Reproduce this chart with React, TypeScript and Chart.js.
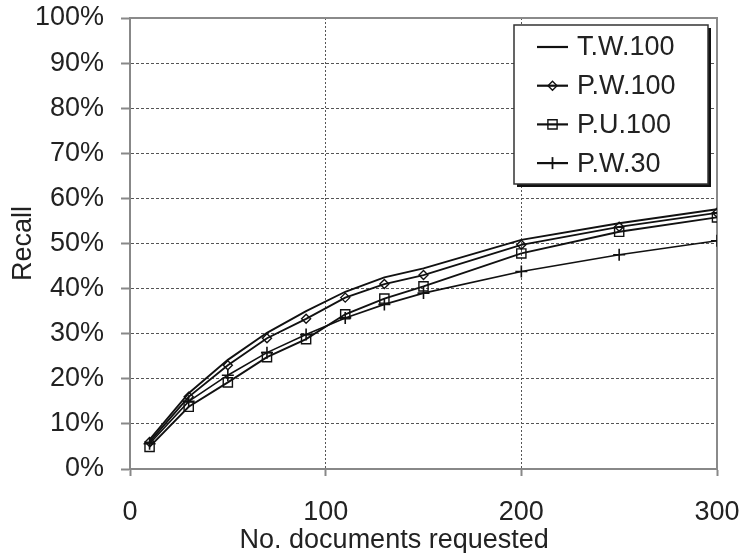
import React, { useEffect, useRef } from 'react';
import { Chart, registerables } from 'chart.js';

Chart.register(...registerables);

const docsRequested = [10, 30, 50, 70, 90, 110, 130, 150, 200, 250, 300];
const recallTW100 = [6.5, 16.8, 24.2, 30.2, 35.0, 39.3, 42.5, 44.5, 50.8, 54.5, 57.6];
const recallPW100 = [6.0, 16.0, 23.0, 29.0, 33.3, 38.0, 41.0, 43.0, 49.7, 53.7, 56.8];
const recallPU100 = [4.9, 13.8, 19.2, 24.8, 28.8, 34.3, 37.8, 40.5, 47.8, 52.6, 55.8];
const recallPW30 = [5.6, 15.0, 20.8, 25.8, 29.8, 33.5, 36.5, 39.0, 43.8, 47.5, 50.6];
const seriesNames = ['T.W.100', 'P.W.100', 'P.U.100', 'P.W.30'];
const seriesMarkers = ['none', 'rectRot', 'rect', 'cross'];
const xTitle = 'No. documents requested';
const yTitle = 'Recall';

const FONT = '"Liberation Sans", Arial, Helvetica, sans-serif';
const TEXT = '#222';
const INK = '#111';

function drawMarker(ctx: CanvasRenderingContext2D, style: string, x: number, y: number) {
  ctx.save();
  ctx.strokeStyle = INK;
  ctx.lineWidth = 1.4;
  ctx.beginPath();
  if (style === 'rectRot') {
    const r = 4.5;
    ctx.moveTo(x - r, y); ctx.lineTo(x, y - r); ctx.lineTo(x + r, y); ctx.lineTo(x, y + r); ctx.closePath();
  } else if (style === 'rect') {
    const s = 4.6;
    ctx.rect(x - s, y - s, 2 * s, 2 * s);
  } else if (style === 'cross') {
    const r = 6;
    ctx.lineWidth = 1.8;
    ctx.moveTo(x, y - r); ctx.lineTo(x, y + r);
  }
  ctx.stroke();
  ctx.restore();
}

const customPlugin = {
  id: 'customDecor',
  beforeDatasetsDraw(chart: any) {
    const { ctx, chartArea } = chart;
    const { left, right, top, bottom } = chartArea;
    ctx.save();
    ctx.strokeStyle = '#8a8a8a';
    ctx.lineWidth = 2;
    ctx.beginPath();
    ctx.moveTo(left, top);
    ctx.lineTo(right, top);
    ctx.lineTo(right, bottom);
    ctx.stroke();
    ctx.restore();
  },
  afterDraw(chart: any) {
    const { ctx, chartArea } = chart;
    const { left, right, top, bottom } = chartArea;
    ctx.save();
    ctx.fillStyle = TEXT;
    ctx.font = `27px ${FONT}`;
    ctx.textAlign = 'center';
    ctx.textBaseline = 'middle';
    ctx.fillText(xTitle, left + 0.45 * (right - left), bottom + 72);
    ctx.save();
    ctx.translate(24, (top + bottom) / 2);
    ctx.rotate(-Math.PI / 2);
    ctx.fillText(yTitle, 0, 0);
    ctx.restore();

    // legend
    const bx = right - 203;
    const by = top + 7;
    const bw = 194;
    const bh = 159;
    ctx.fillStyle = '#111';
    ctx.fillRect(bx + 3, by + 3, bw, bh);
    ctx.fillStyle = '#fff';
    ctx.fillRect(bx, by, bw, bh);
    ctx.strokeStyle = '#333';
    ctx.lineWidth = 1.5;
    ctx.strokeRect(bx, by, bw, bh);

    ctx.font = `27px ${FONT}`;
    ctx.textAlign = 'left';
    ctx.textBaseline = 'middle';
    for (let i = 0; i < seriesNames.length; i++) {
      const cy = by + 22 + i * 38.7;
      const sx0 = bx + 23;
      const sx1 = bx + 54;
      ctx.strokeStyle = INK;
      ctx.lineWidth = 2.2;
      ctx.beginPath();
      ctx.moveTo(sx0, cy);
      ctx.lineTo(sx1, cy);
      ctx.stroke();
      if (seriesMarkers[i] !== 'none') drawMarker(ctx, seriesMarkers[i], (sx0 + sx1) / 2, cy);
      ctx.fillStyle = TEXT;
      ctx.fillText(seriesNames[i], bx + 63, cy + 1);
    }
    ctx.restore();
  },
};

export default function App() {
  const canvasRef = useRef<HTMLCanvasElement | null>(null);

  useEffect(() => {
    document.body.style.margin = '0';
    const canvas = canvasRef.current;
    if (!canvas) return;

    const mk = (arr: number[]) => docsRequested.map((x, i) => ({ x, y: arr[i] }));
    const transparent = 'rgba(255,255,255,0)';

    const chart = new Chart(canvas, {
      type: 'line',
      data: {
        datasets: [
          {
            label: seriesNames[0],
            data: mk(recallTW100),
            borderColor: INK,
            borderWidth: 1.9,
            pointRadius: 0,
            tension: 0,
          },
          {
            label: seriesNames[1],
            data: mk(recallPW100),
            borderColor: INK,
            borderWidth: 1.9,
            pointStyle: 'rectRot',
            pointRadius: 4.5,
            pointBorderColor: INK,
            pointBackgroundColor: transparent,
            pointBorderWidth: 1.4,
            tension: 0,
          },
          {
            label: seriesNames[2],
            data: mk(recallPU100),
            borderColor: INK,
            borderWidth: 1.9,
            pointStyle: 'rect',
            pointRadius: 6.5,
            pointBorderColor: INK,
            pointBackgroundColor: transparent,
            pointBorderWidth: 1.4,
            tension: 0,
          },
          {
            label: seriesNames[3],
            data: mk(recallPW30),
            borderColor: INK,
            borderWidth: 1.6,
            pointStyle: 'cross',
            pointRadius: 6,
            pointBorderColor: INK,
            pointBorderWidth: 1.6,
            tension: 0,
          },
        ],
      },
      options: {
        responsive: false,
        animation: false,
        maintainAspectRatio: false,
        layout: { padding: { top: 18, right: 24, left: 0, bottom: 0 } },
        plugins: {
          legend: { display: false },
          tooltip: { enabled: false },
          title: { display: false },
        },
        scales: {
          x: {
            type: 'linear',
            min: 0,
            max: 300,
            ticks: {
              stepSize: 100,
              color: TEXT,
              font: { family: FONT, size: 27 },
              padding: 20,
              maxRotation: 0,
            },
            grid: {
              color: '#555',
              lineWidth: 1,
              tickLength: 7,
              tickColor: '#888',
              tickWidth: 2,
            },
            border: { display: true, color: '#888', width: 2, dash: [2, 2] },
            afterFit: (scale: any) => {
              scale.height = 84;
              scale.paddingLeft = 0;
              scale.paddingRight = 0;
            },
          },
          y: {
            type: 'linear',
            min: 0,
            max: 100,
            ticks: {
              stepSize: 10,
              autoSkip: false,
              color: TEXT,
              font: { family: FONT, size: 27 },
              padding: 17,
              callback: (v: any) => `${v}%`,
            },
            grid: {
              color: '#555',
              lineWidth: 1,
              tickLength: 9,
              tickColor: '#888',
              tickWidth: 2,
            },
            border: { display: true, color: '#888', width: 2, dash: [3, 2] },
            afterFit: (scale: any) => {
              scale.width = 130;
              scale.paddingTop = 0;
              scale.paddingBottom = 0;
            },
          },
        },
      },
      plugins: [customPlugin],
    } as any);

    return () => chart.destroy();
  }, []);

  return (
    <div style={{ position: 'absolute', left: 0, top: 0, width: 741, height: 553, background: '#fff' }}>
      <canvas ref={canvasRef} width={741} height={553} style={{ display: 'block', width: 741, height: 553 }} />
    </div>
  );
}
